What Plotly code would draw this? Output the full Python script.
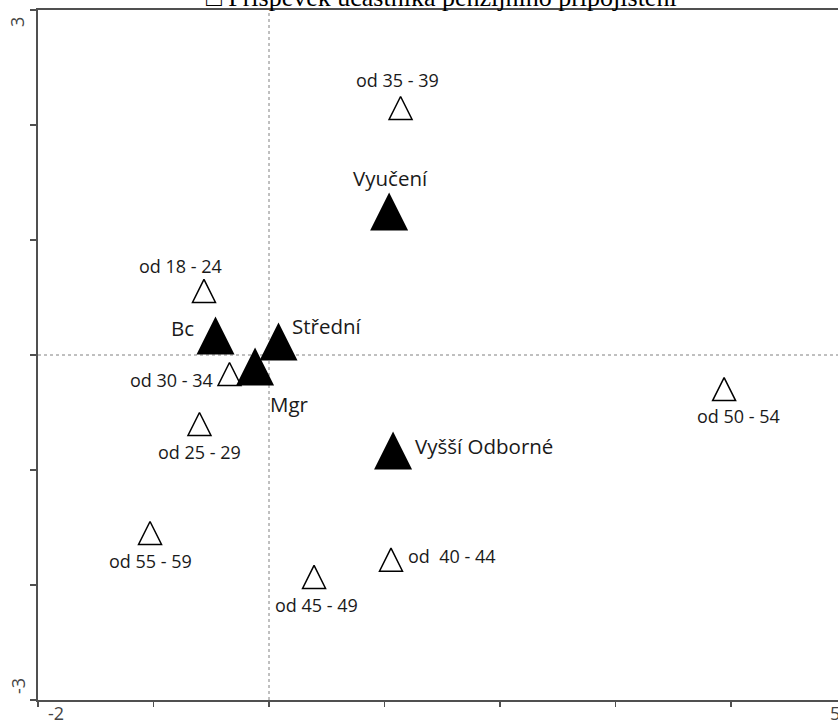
import plotly.graph_objects as go

# ---- data ----
age_labels = ["od 18 - 24", "od 25 - 29", "od 30 - 34", "od 35 - 39",
              "od  40 - 44", "od 45 - 49", "od 50 - 54", "od 55 - 59"]
age_x = [-0.563, -0.602, -0.342, 1.139, 1.056, 0.390, 3.940, -1.030]
age_y = [0.657, -0.500, -0.065, 2.248, -1.680, -1.830, -0.196, -1.448]

edu_labels = ["Vyučení", "Bc", "Střední", "Mgr", "Vyšší Odborné"]
edu_x = [1.040, -0.463, 0.082, -0.121, 1.074]
edu_y = [1.413, 0.335, 0.283, 0.065, -0.665]

x_tick_vals = [-2, -1, 0, 1, 2, 3, 4]
x_end_label = "5"
y_tick_vals = [-3, -2, -1, 0, 1, 2, 3]
title_text = "□ Příspěvek účastníka penzijního připojištění"

# ---- label placement (pixel offsets from the marker anchor; styling only) ----
age_offsets = [(-23, -13), (0, 39), (-58, 18), (-3, -16),
               (61, 8), (2, 40), (14, 38), (0, 39)]
edu_offsets = [(1, -15), (-33, 12), (49, 4), (34, 56), (91, 15)]

FONT = "Open Sans"
TXT = "#1a1a1a"
AX = "#505050"

fig = go.Figure()
fig.add_trace(go.Scatter(
    x=age_x, y=age_y, mode="markers",
    marker=dict(symbol="arrow-up", size=23, color="white",
                line=dict(color="black", width=1.5)),
    hoverinfo="text", text=age_labels, showlegend=False))
fig.add_trace(go.Scatter(
    x=edu_x, y=edu_y, mode="markers",
    marker=dict(symbol="arrow-up", size=38, color="black",
                line=dict(color="black", width=0)),
    hoverinfo="text", text=edu_labels, showlegend=False))

annotations = []
for lab, x, y, (dx, dy) in zip(age_labels, age_x, age_y, age_offsets):
    annotations.append(dict(x=x, y=y, xref="x", yref="y", text=lab,
                            showarrow=False, xanchor="center", yanchor="middle",
                            xshift=dx, yshift=-dy,
                            font=dict(family=FONT, size=18, color=TXT)))
for lab, x, y, (dx, dy) in zip(edu_labels, edu_x, edu_y, edu_offsets):
    annotations.append(dict(x=x, y=y, xref="x", yref="y", text=lab,
                            showarrow=False, xanchor="center", yanchor="middle",
                            xshift=dx, yshift=-dy,
                            font=dict(family=FONT, size=20.5, color=TXT)))

# axis end labels as in the reference
tick_font = dict(family=FONT, size=18, color="#444444")
annotations += [
    dict(x=x_tick_vals[0], y=0, xref="x", yref="paper", text=str(x_tick_vals[0]),
         showarrow=False, xanchor="center", yanchor="top", xshift=18, yshift=1,
         font=tick_font),
    dict(x=1, y=0, xref="paper", yref="paper", text=x_end_label,
         showarrow=False, xanchor="center", yanchor="top", xshift=-3, yshift=1,
         font=tick_font),
    dict(x=0, y=y_tick_vals[-1], xref="paper", yref="y", text=str(y_tick_vals[-1]),
         showarrow=False, xanchor="center", yanchor="middle", xshift=-21, yshift=-12,
         textangle=-90, font=tick_font),
    dict(x=0, y=y_tick_vals[0], xref="paper", yref="y", text=str(y_tick_vals[0]),
         showarrow=False, xanchor="center", yanchor="middle", xshift=-20, yshift=14,
         textangle=-90, font=tick_font),
    dict(x=0.504, y=1, xref="paper", yref="paper", text=title_text,
         showarrow=False, xanchor="center", yanchor="bottom", yshift=-4,
         font=dict(family="Liberation Serif", size=26, color="black")),
]

shapes = [
    dict(type="line", xref="x", yref="paper", x0=0, x1=0, y0=0, y1=1,
         line=dict(color="#808080", width=1, dash="dot"), layer="below"),
    dict(type="line", xref="paper", yref="y", x0=0, x1=1, y0=0, y1=0,
         line=dict(color="#808080", width=1, dash="dot"), layer="below"),
]

fig.update_layout(
    width=838, height=720, autosize=False,
    margin=dict(l=38, r=0, t=10, b=20),
    paper_bgcolor="white", plot_bgcolor="white",
    annotations=annotations, shapes=shapes,
    xaxis=dict(range=[-2, 4.926], showgrid=False, zeroline=False,
               showline=True, linecolor=AX, linewidth=2, mirror=True,
               ticks="outside", ticklen=5, tickwidth=1.5, tickcolor=AX,
               tickvals=x_tick_vals, showticklabels=False, fixedrange=True),
    yaxis=dict(range=[-3, 3], showgrid=False, zeroline=False,
               showline=True, linecolor=AX, linewidth=2,
               ticks="outside", ticklen=6, tickwidth=1.5, tickcolor=AX,
               tickvals=y_tick_vals, showticklabels=False, fixedrange=True),
)

fig.write_html("out.html",
               config={"displayModeBar": False, "staticPlot": True},
               post_script="document.body.style.margin='0px';"
                           "document.body.style.overflow='hidden';")
